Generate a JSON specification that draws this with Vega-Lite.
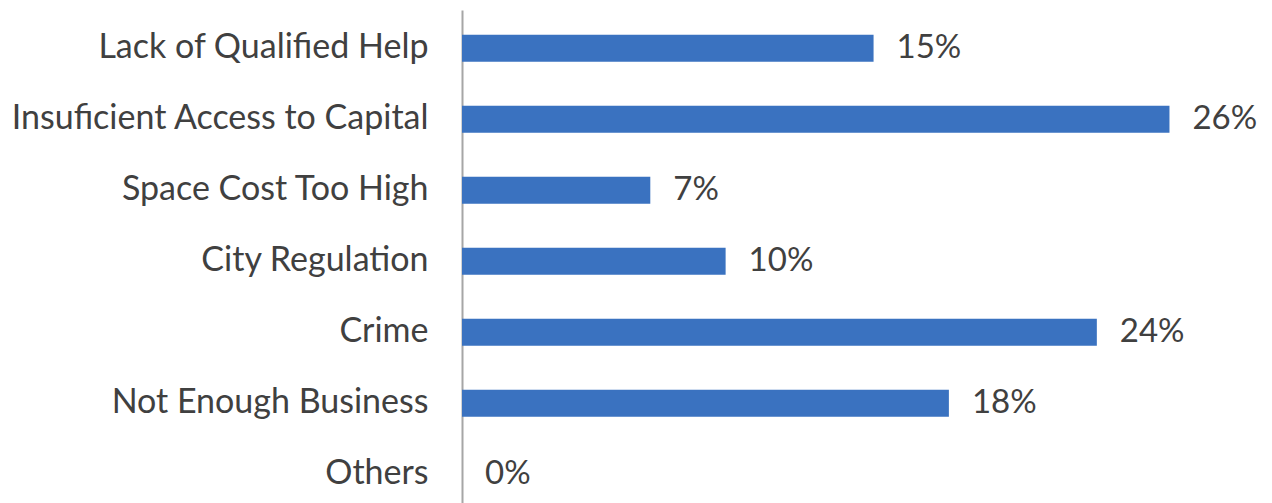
{
  "$schema": "https://vega.github.io/schema/vega-lite/v6.json",
  "autosize": {"type": "none"},
  "padding": {"left": 462, "top": 10, "right": 0, "bottom": 0},
  "width": 807,
  "height": 493,
  "background": "white",
  "config": {"view": {"stroke": null}, "font": "Lato"},
  "data": {
    "values": [
      {"reason": "Lack of Qualified Help", "share": 0.153},
      {"reason": "Insuficient Access to Capital", "share": 0.263},
      {"reason": "Space Cost Too High", "share": 0.070},
      {"reason": "City Regulation", "share": 0.098},
      {"reason": "Crime", "share": 0.236},
      {"reason": "Not Enough Business", "share": 0.181},
      {"reason": "Others", "share": 0.0}
    ]
  },
  "encoding": {
    "y": {
      "field": "reason",
      "type": "nominal",
      "sort": null,
      "scale": {"paddingInner": 0.62, "paddingOuter": 0.28, "align": 0.62},
      "axis": {
        "title": null,
        "ticks": false,
        "labelFontSize": 34,
        "labelFont": "Lato",
        "labelColor": "#404040",
        "labelPadding": 34,
        "labelLimit": 0,
        "domainColor": "#a6a6a6",
        "domainWidth": 2,
        "grid": false
      }
    },
    "x": {
      "field": "share",
      "type": "quantitative",
      "scale": {"domain": [0, 0.30], "nice": false},
      "axis": null
    }
  },
  "layer": [
    {"mark": {"type": "bar", "color": "#3a72c0"}},
    {
      "mark": {"type": "text", "align": "left", "baseline": "middle", "dx": 23, "fontSize": 33, "font": "Lato", "color": "#404040"},
      "encoding": {"text": {"field": "share", "type": "quantitative", "format": ".0%"}}
    }
  ]
}
